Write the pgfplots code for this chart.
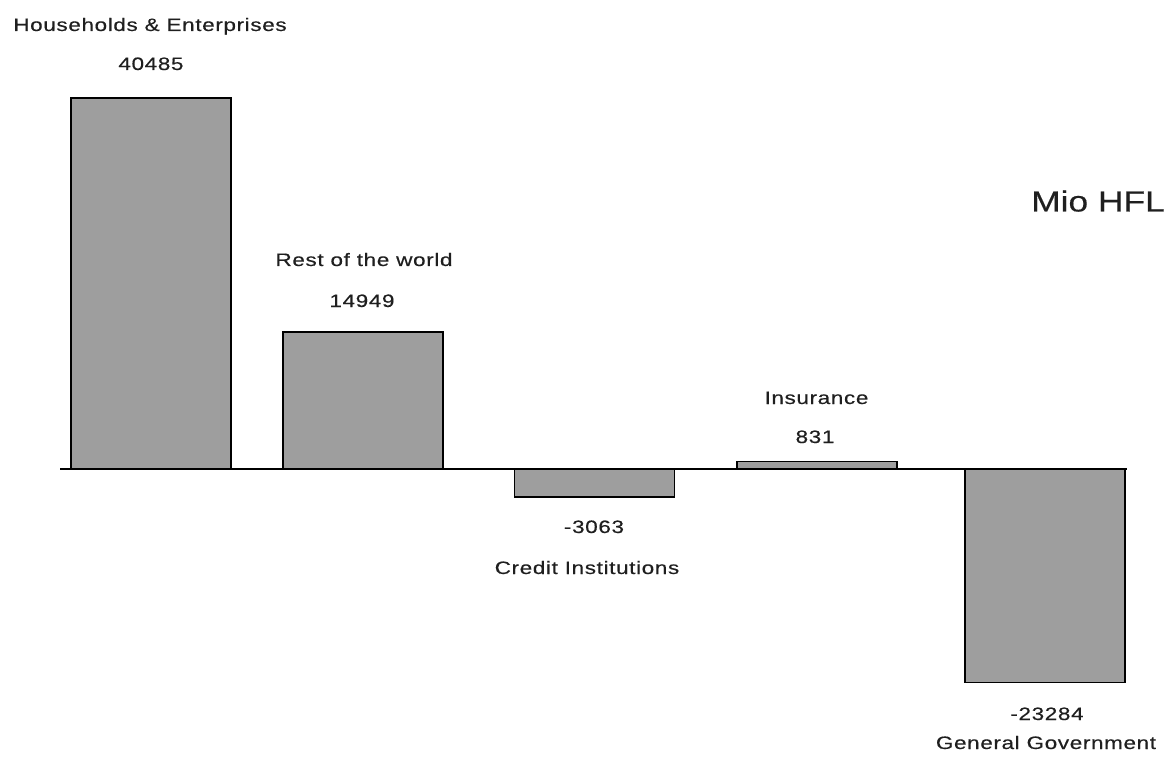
\documentclass[border=0pt]{standalone}
\usepackage{pgfplots}
\pgfplotsset{compat=1.18}
\usepackage{fontspec}
\setmainfont{Liberation Sans}[FakeStretch=1.22,FakeBold=0.35]
\newfontfamily\labfont{Liberation Sans}[FakeStretch=1.25,LetterSpace=3.5,FakeBold=0.35]
\definecolor{barfill}{gray}{0.62}
\definecolor{ink}{gray}{0.12}
\newcommand\lab[3]{\node[anchor=base,inner sep=0pt,text=ink] at ({#1*0.5pt},{(762-#2)*0.5pt}) {\labfont\fontsize{9}{10}\selectfont #3};}
\begin{document}
\begin{tikzpicture}
\path[use as bounding box] (0,0) rectangle (586.5pt,381pt);
\begin{axis}[
  at={(0,0)}, anchor=south west,
  scale only axis, width=586.5pt, height=381pt,
  hide axis,
  xmin=0, xmax=1173,
  ymin=-31966, ymax=51168,
]
\addplot[ybar, bar width=160, fill=barfill, draw=black, line width=0.85pt]
  coordinates {(151,40485) (363,14949) (594.5,-3063) (817,831) (1045,-23284)};
\addplot[sharp plot, no marks, black, line width=0.8pt]
  coordinates {(60,0) (1127,0)};
\end{axis}
\lab{150}{31}{Households \& Enterprises}
\lab{151}{70}{40485}
\lab{364}{266}{Rest of the world}
\lab{362}{307}{14949}
\lab{816.5}{404}{Insurance}
\lab{815}{443}{831}
\lab{594}{533}{-3063}
\lab{587}{574}{Credit Institutions}
\lab{1047}{720}{-23284}
\lab{1046}{749}{General Government}
\node[anchor=base,inner sep=0pt,text=ink] at ({1098*0.5pt},{(762-211.5)*0.5pt}) {\fontsize{14.5}{17}\selectfont Mio HFL};
\end{tikzpicture}
\end{document}
